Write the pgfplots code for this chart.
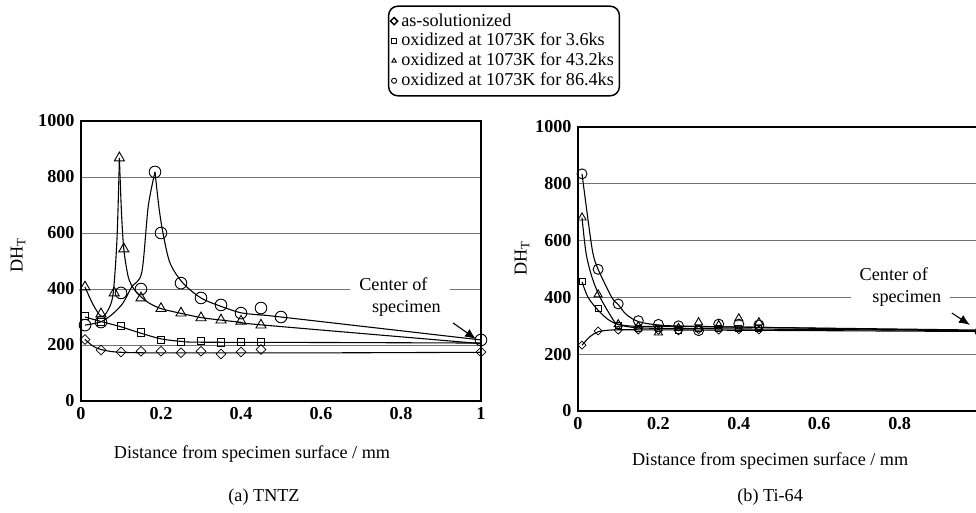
\documentclass[border=0pt]{standalone}
\usepackage{fontspec}
\setmainfont{Liberation Serif}
\usepackage{pgfplots}
\pgfplotsset{compat=1.18}
\usetikzlibrary{arrows.meta}

\pgfplotsset{
  dhstyle/.style={
    scale only axis,
    xmin=0, xmax=1, ymin=0, ymax=1000,
    xtick={0,0.2,0.4,0.6,0.8,1},
    ytick={0,200,400,600,800,1000},
    ymajorgrids,
    grid style={black!55, line width=0.5pt},
    major tick length=0pt,
    axis line style={line width=1pt},
    tick label style={font=\bfseries},
    /pgf/number format/assume math mode=true,
    /pgf/number format/1000 sep={},
    clip=false,
    label style={font=\normalsize},
  },
  curve/.style={black, line width=0.6pt, smooth, no markers, forget plot},
  mk/.style={only marks, black, mark options={fill=white, line width=0.5pt, solid},
    legend image code/.code={\draw[##1, mark size=1.4pt] plot coordinates {(0pt,0pt)};}},
}

\begin{document}
\begin{tikzpicture}
% ---------------- (a) TNTZ ----------------
\begin{axis}[dhstyle,
  at={(44.55pt,61.05pt)}, anchor=south west,
  width=220pt, height=154pt,
  xlabel={Distance from specimen surface / mm},
  xlabel style={at={(axis description cs:0.4275,-0.189)}, anchor=center},
  ylabel={DH\textsubscript{T}},
  ylabel style={at={(axis description cs:-0.1575,0.52)}, anchor=center},
  legend style={at={(axis description cs:1.0575,1.25)}, anchor=center,
    draw=black, line width=0.8pt, rounded corners=5pt, font=\normalsize,
    cells={anchor=west}, row sep=-1.6pt, inner xsep=1pt, inner ysep=2pt},
]
% curves
\addplot[curve] coordinates {(0.01,220)(0.03,196)(0.05,184)(0.08,176)(0.12,173)(0.2,172)(0.6,172)(1.0,174)};
\addplot[curve] coordinates {(0.01,300)(0.05,284)(0.1,265)(0.15,242)(0.2,222)(0.25,213)(0.3,210)(0.6,209)(1.0,207)};
\addplot[curve] coordinates {(0.01,407)(0.03,345)(0.05,303)(0.065,318)(0.08,380)(0.09,580)(0.096,868)};
\addplot[curve] coordinates {(0.096,868)(0.101,680)(0.107,543)(0.118,444)(0.131,403)(0.15,372)(0.17,350)(0.2,330)(0.25,313)(0.3,298)(0.35,289)(0.4,281)(0.45,272)(1.0,205)};
\addplot[curve] coordinates {(0.01,271)(0.05,283)(0.08,312)(0.105,350)(0.127,408)(0.152,460)(0.168,694)(0.185,818)};
\addplot[curve] coordinates {(0.185,818)(0.195,690)(0.205,600)(0.2225,493)(0.255,421)(0.3,368)(0.35,338)(0.4,315)(0.45,307)(0.5,300)(1.0,218)};
% marks
\addplot[mk, mark=square, mark size=1.9pt, mark options={rotate=45}] coordinates {(0.01,220)(0.05,182)(0.1,175)(0.15,178)(0.2,178)(0.25,172)(0.3,178)(0.35,168)(0.4,175)(0.45,184)(1.0,175)};
\addlegendentry{as-solutionized}
\addplot[mk, mark=square, mark size=2.1pt] coordinates {(0.01,304)(0.05,282)(0.1,268)(0.15,244)(0.2,218)(0.25,211)(0.3,214)(0.35,210)(0.4,211)(0.45,211)};
\addlegendentry{oxidized at 1073K for 3.6ks}
\addplot[mk, mark=triangle, mark size=3.2pt] coordinates {(0.01,407)(0.05,311)(0.083,386)(0.096,868)(0.107,543)(0.15,368)(0.2,330)(0.25,314)(0.3,297)(0.35,289)(0.4,285)(0.45,271)};
\addlegendentry{oxidized at 1073K for 43.2ks}
\addplot[mk, mark=o, mark size=3.2pt] coordinates {(0.01,271)(0.05,282)(0.1,386)(0.15,400)(0.185,818)(0.2,600)(0.25,421)(0.3,368)(0.35,343)(0.4,314)(0.45,332)(0.5,300)(1.0,218)};
\addlegendentry{oxidized at 1073K for 86.4ks}
\node[fill=white, align=left, inner xsep=5pt, inner ysep=1pt, font=\normalsize] at (axis cs:0.7975,371) {Center of\\\hspace*{7pt}specimen};
\draw[-{Latex[length=6pt,width=5pt]}, line width=0.6pt] (axis cs:0.93,279) -- (axis cs:0.9875,221);
\node[font=\normalsize] at (axis description cs:0.4575,-0.343) {(a) TNTZ};
\end{axis}

% ---------------- (b) Ti-64 ----------------
\begin{axis}[dhstyle,
  at={(317.9pt,55.55pt)}, anchor=south west,
  width=221.1pt, height=156.2pt,
  xtick={0,0.2,0.4,0.6,0.8},
  xlabel={Distance from specimen surface / mm},
  xlabel style={at={(axis description cs:0.478,-0.176)}, anchor=center},
  ylabel={DH\textsubscript{T}},
  ylabel style={at={(axis description cs:-0.139,0.539)}, anchor=center},
]
\addplot[curve] coordinates {(0.01,232)(0.03,262)(0.05,279)(0.08,285)(0.12,286)(0.3,285)(1.0,280)};
\addplot[curve] coordinates {(0.01,455)(0.025,400)(0.05,355)(0.075,322)(0.1,305)(0.15,293)(0.3,290)(1.0,283)};
\addplot[curve] coordinates {(0.01,681)(0.02,556)(0.035,470)(0.055,400)(0.088,320)(0.1,305)(0.15,298)(0.3,297)(1.0,285)};
\addplot[curve] coordinates {(0.01,835)(0.025,672)(0.037,556)(0.05,499)(0.084,400)(0.1,375)(0.12,340)(0.15,315)(0.2,303)(0.3,298)(1.0,282)};
\addplot[mk, mark=square, mark size=1.55pt, mark options={rotate=45}] coordinates {(0.01,232)(0.05,282)(0.1,285)(0.15,285)(0.2,284)(0.25,282)(0.3,286)(0.35,285)(0.4,286)(0.45,285)(1.0,278)};
\addplot[mk, mark=square, mark size=1.65pt] coordinates {(0.01,455)(0.05,360)(0.1,300)(0.15,290)(0.2,292)(0.25,285)(0.3,290)(0.35,292)(0.4,292)(0.45,290)(1.0,280)};
\addplot[mk, mark=triangle, mark size=2.6pt] coordinates {(0.01,681)(0.05,410)(0.1,305)(0.15,298)(0.2,276)(0.25,292)(0.3,312)(0.35,302)(0.4,326)(0.45,312)(1.0,285)};
\addplot[mk, mark=o, mark size=2.75pt] coordinates {(0.01,835)(0.05,499)(0.1,377)(0.15,318)(0.2,305)(0.25,300)(0.3,283)(0.35,306)(0.4,306)(0.45,303)(1.0,279)};
\node[fill=white, align=left, inner xsep=5pt, inner ysep=1pt, font=\normalsize] at (axis cs:0.802,437) {Center of\\\hspace*{7pt}specimen};
\draw[-{Latex[length=6pt,width=5pt]}, line width=0.6pt] (axis cs:0.93,345) -- (axis cs:0.975,303);
\node[font=\normalsize] at (axis description cs:0.478,-0.303) {(b) Ti-64};
\end{axis}
\pgfresetboundingbox
\useasboundingbox (0pt,0pt) rectangle (536.8pt,281.6pt);
\end{tikzpicture}
\end{document}
